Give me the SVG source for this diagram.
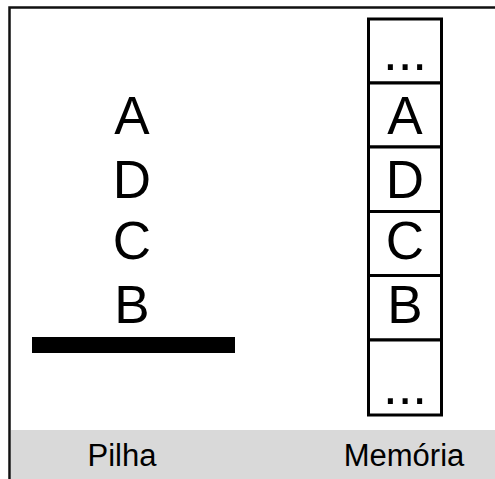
<svg xmlns="http://www.w3.org/2000/svg" width="495" height="479" viewBox="0 0 495 479">
<style>
.big{font-family:"Liberation Sans",Arial,sans-serif;font-size:53px;fill:#000;text-anchor:middle}
.lbl{font-family:"Liberation Sans",Arial,sans-serif;font-size:31px;fill:#000;text-anchor:middle}
.cell{fill:#fff;stroke:#000;stroke-width:3}
</style>
<rect x="0" y="0" width="495" height="479" fill="#fff"/>
<g id="footer">
<rect x="11" y="430" width="484" height="49" fill="#d9d9d9"/>
<text class="lbl" x="122" y="466">Pilha</text>
<text class="lbl" x="404" y="466">Memória</text>
</g>
<g id="frame" fill="none" stroke="#111">
<path d="M9.5 479 V7.5 H495" stroke-width="2.5"/>
</g>
<g id="pilha">
<text class="big" x="132" y="134">A</text>
<text class="big" x="132" y="198">D</text>
<text class="big" x="132" y="259">C</text>
<text class="big" x="132" y="323">B</text>
<rect x="32" y="337" width="203" height="16" fill="#000"/>
</g>
<g id="memoria">
<rect class="cell" x="368.5" y="19" width="73" height="64"/>
<rect class="cell" x="368.5" y="83" width="73" height="64"/>
<rect class="cell" x="368.5" y="147" width="73" height="64.5"/>
<rect class="cell" x="368.5" y="211.5" width="73" height="64"/>
<rect class="cell" x="368.5" y="275.5" width="73" height="64.5"/>
<rect class="cell" x="368.5" y="340" width="73" height="75"/>
<text class="big" x="405" y="70">...</text>
<text class="big" x="405" y="134">A</text>
<text class="big" x="405" y="198">D</text>
<text class="big" x="405" y="259">C</text>
<text class="big" x="405" y="323">B</text>
<text class="big" x="405" y="404">...</text>
</g>
<g id="connectors"/>
</svg>
